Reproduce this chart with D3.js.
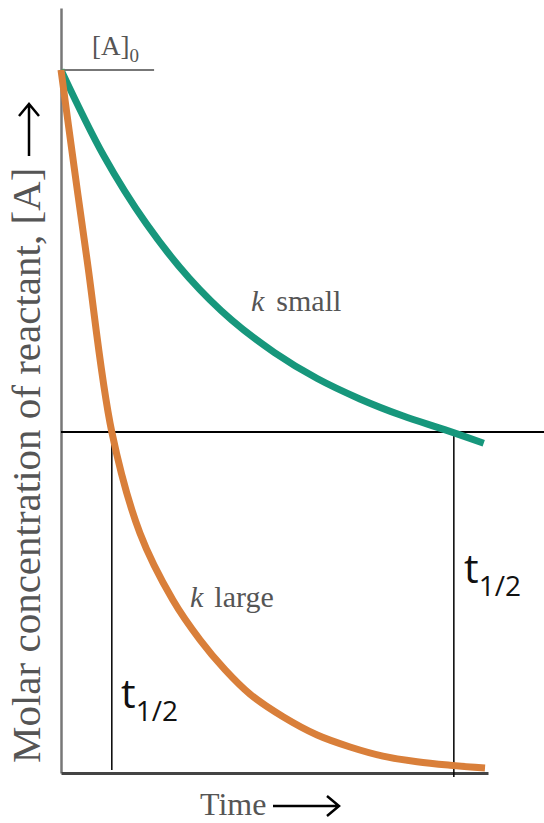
<!DOCTYPE html>
<html lang="en">
<head>
<meta charset="UTF-8">
<title>Half-life, k small vs k large</title>
<style>
    body { margin: 0; background: #fff; }
    .serif { font-family: "Liberation Serif", "DejaVu Serif", serif; fill: #555; }
    .sans { font-family: "Open Sans", "Liberation Sans", sans-serif; fill: #111; }
</style>
</head>
<body>
<svg id="chart" width="544" height="823"></svg>
<script src="https://cdn.jsdelivr.net/npm/d3@7/dist/d3.min.js"></script>
<script>
// values (time in arbitrary units, [A]/[A]0)
const kSmallT = [0, 1, 2, 3, 4, 5, 6, 7, 8, 9, 9.9]
const kSmallC = [1, 0.878, 0.781, 0.704, 0.644, 0.598, 0.561, 0.532, 0.508, 0.488, 0.469]
const kLargeT = [0, 0.3, 0.61, 1.19, 1.85, 2.62, 3.26, 3.84, 4.43, 5.2, 6.0, 6.77, 7.54, 8.34, 9.11, 9.93]
const kLargeC = [1, 0.865, 0.73, 0.485, 0.341, 0.246, 0.189, 0.147, 0.112, 0.08, 0.054, 0.037, 0.024, 0.016, 0.011, 0.007]
const halfC = 0.485
const halfLifeT = [1.19, 9.2]
const a0 = 1

let svg = d3.select("#chart")
let x = d3.scaleLinear().domain([0, 10]).range([61, 488])
let y = d3.scaleLinear().domain([0, 1.088]).range([773, 8])

// axes, no ticks
svg.append("g")
    .attr("transform", "translate(61,0)")
    .call(d3.axisLeft(y).tickValues([]).tickSizeOuter(0))
    .select(".domain").attr("stroke", "#777").attr("stroke-width", 2.5)
svg.append("g")
    .attr("transform", "translate(0,773)")
    .call(d3.axisBottom(x).tickValues([]).tickSizeOuter(0))
    .select(".domain").attr("stroke", "#444").attr("stroke-width", 3)

// [A]0 marker
svg.append("line")
    .attr("x1", x(0)).attr("x2", x(2.18))
    .attr("y1", y(a0)).attr("y2", y(a0))
    .attr("stroke", "#777").attr("stroke-width", 2)
let a0Label = svg.append("text").attr("class", "serif")
    .attr("x", 92).attr("y", 55).style("font-size", "27px")
a0Label.append("tspan").text("[A]")
a0Label.append("tspan").attr("dy", 7).style("font-size", "19px").text("0")

// half-life guide lines
svg.append("line")
    .attr("x1", x(0)).attr("x2", 544)
    .attr("y1", y(halfC)).attr("y2", y(halfC))
    .attr("stroke", "#000").attr("stroke-width", 2)
svg.selectAll(".half")
    .data(halfLifeT)
    .enter().append("line")
    .attr("class", "half")
    .attr("x1", d => x(d)).attr("x2", d => x(d))
    .attr("y1", y(halfC)).attr("y2", (d, i) => i == 0 ? 770 : 777)
    .attr("stroke", "#000").attr("stroke-width", 1.5)

// decay curves
let line = d3.line().x(d => x(d[0])).y(d => y(d[1])).curve(d3.curveCatmullRom.alpha(0.5))
svg.append("path")
    .datum(d3.zip(kSmallT, kSmallC))
    .attr("d", line)
    .attr("fill", "none").attr("stroke", "#17977c").attr("stroke-width", 7)
svg.append("path")
    .datum(d3.zip(kLargeT, kLargeC))
    .attr("d", line)
    .attr("fill", "none").attr("stroke", "#d97f3a").attr("stroke-width", 7)

// curve labels
function kLabel(px, py, word, gap) {
    let t = svg.append("text").attr("class", "serif")
        .attr("x", px).attr("y", py).style("font-size", "30px")
    t.append("tspan").style("font-style", "italic").text("k")
    t.append("tspan").attr("dx", gap).text(word)
}
kLabel(251, 311, "small", 12)
kLabel(190, 607, "large", 11)

// t1/2 labels
function tHalf(px, py) {
    let t = svg.append("text").attr("class", "sans")
        .attr("x", px).attr("y", py).style("font-size", "41px")
    t.append("tspan").text("t")
    t.append("tspan").attr("dy", 13).style("font-size", "28px").text("1/2")
}
tHalf(121, 708)
tHalf(464, 583)

// axis titles with arrows
svg.append("text").attr("class", "serif")
    .attr("transform", "translate(40,763) rotate(-90)")
    .style("font-size", "41px")
    .text("Molar concentration of reactant, [A]")
svg.append("path")
    .attr("d", "M29,156V104M19,116L29,104L39,116")
    .attr("fill", "none").attr("stroke", "#000").attr("stroke-width", 2.5)

svg.append("text").attr("class", "serif")
    .attr("x", 200).attr("y", 815)
    .style("font-size", "32px")
    .text("Time")
svg.append("path")
    .attr("d", "M273,806H338M327,796L339,806L327,816")
    .attr("fill", "none").attr("stroke", "#000").attr("stroke-width", 2.5)
</script>
</body>
</html>
